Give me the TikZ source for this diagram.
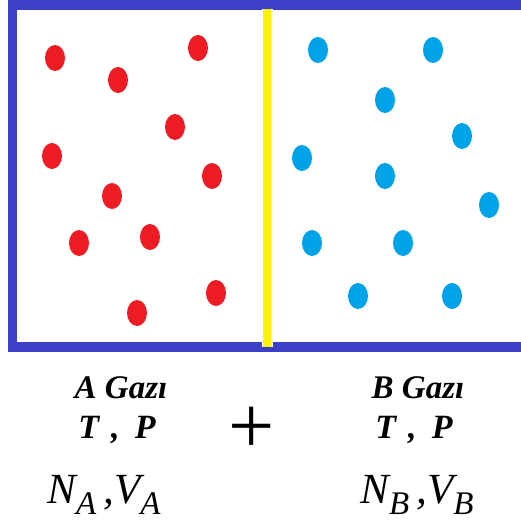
\documentclass[tikz,border=0pt]{standalone}
\usepackage{fontspec}
\setmainfont{Liberation Serif}
\usepackage{tikz}
\usetikzlibrary{positioning}
\definecolor{boxblue}{RGB}{60,64,200}
\definecolor{gasred}{RGB}{237,28,36}
\definecolor{gasblue}{RGB}{0,162,232}
\definecolor{wallyellow}{RGB}{255,242,0}
\newcommand{\subA}[1]{\raisebox{-11pt}{\fontsize{33}{33}\selectfont #1}}

\begin{document}
\begin{tikzpicture}[x=1pt, y=-1pt,
  molA/.style={fill=gasred},
  molB/.style={fill=gasblue},
  title/.style={anchor=base, inner sep=0pt, font=\fontsize{33}{35}\selectfont\bfseries\itshape},
  state/.style={anchor=base, inner sep=0pt, font=\fontsize{34}{36}\selectfont\bfseries\itshape},
  amount/.style={anchor=base, inner sep=0pt, font=\fontsize{43}{45}\selectfont\itshape}]
\useasboundingbox (0,0) rectangle (521,521);
\fill[white] (0,0) rectangle (521,521);
% container and wall
\draw[boxblue, line width=9.5pt] (12.5,5) rectangle (535,347);
\draw[white, line width=11pt] (267,9) -- (267,347);
\draw[wallyellow, line width=8pt] (267,9) -- (267,347);
% gas A molecules
\foreach \x/\y in {55/58,198/48,118/80,175/127,52/156,212/176,112/196,79/243,150/237,216/293,137/313} {
  \fill[molA] (\x,\y) ellipse (10pt and 13pt);
}
% gas B molecules
\foreach \x/\y in {318/50,433/50,385/100,462/136,302/158,385/176,489/205,312/243,403/243,358/296,452/296} {
  \fill[molB] (\x,\y) ellipse (10pt and 13pt);
}
% labels
\node[title] (nameA) at (121,398) {A Gazı};
\node[state] (stateA) at (117,438) {T\hspace{0.35em},\hspace{0.45em}P};
\node[amount] (amtA) at (104,503) {N\subA{A}\,,V\subA{A}};
\node[title] (nameB) at (418,398) {B Gazı};
\node[state] (stateB) at (414,438) {T\hspace{0.35em},\hspace{0.45em}P};
\node[amount] (amtB) at (417,503) {N\subA{B}\,,V\subA{B}};
\node[inner sep=0pt, font=\fontsize{82}{82}\selectfont] (plus) at (252,430) {+};
\end{tikzpicture}
\end{document}
